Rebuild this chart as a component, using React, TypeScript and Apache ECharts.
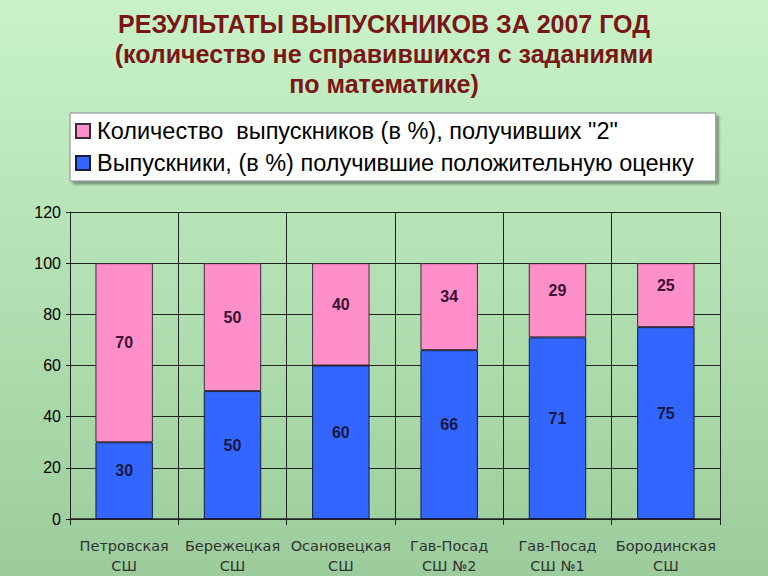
import React, { useEffect, useRef } from "react";
import * as echarts from "echarts";

const categories = [
  "Петровская\nСШ",
  "Бережецкая\nСШ",
  "Осановецкая\nСШ",
  "Гав-Посад\nСШ №2",
  "Гав-Посад\nСШ №1",
  "Бородинская\nСШ",
];
const positive = [30, 50, 60, 66, 71, 75];
const failed = [70, 50, 40, 34, 29, 25];
const seriesNames = [
  'Количество  выпускников (в %), получивших "2"',
  "Выпускники, (в %) получившие положительную оценку",
];
const titleText =
  "РЕЗУЛЬТАТЫ ВЫПУСКНИКОВ ЗА 2007 ГОД\n(количество не справившихся с заданиями\nпо математике)";

export default function App() {
  const ref = useRef<HTMLDivElement>(null);
  useEffect(() => {
    if (!ref.current) return;
    const chart = echarts.init(ref.current, null, { renderer: "svg" });
    chart.setOption({
      animation: false,
      title: {
        text: titleText,
        left: "center",
        top: 4,
        textStyle: {
          fontFamily: "Liberation Sans, Arial, sans-serif",
          fontSize: 25,
          fontWeight: "bold",
          color: "#7a1616",
          lineHeight: 30,
        },
      },
      legend: {
        data: [seriesNames[0], seriesNames[1]],
        orient: "vertical",
        left: 70,
        top: 113,
        itemWidth: 14,
        itemHeight: 14,
        itemGap: 8,
        icon: "rect",
        backgroundColor: "#ffffff",
        borderColor: "#888888",
        borderWidth: 1,
        shadowColor: "rgba(0,0,0,0.35)",
        shadowOffsetX: 3,
        shadowOffsetY: 3,
        shadowBlur: 2,
        padding: [6, 22, 6, 5],
        textStyle: {
          fontFamily: "Liberation Sans, Arial, sans-serif",
          fontSize: 23.5,
          color: "#000",
          padding: [0, 0, 0, 2],
        },
      },
      grid: { left: 70, right: 48, top: 212, bottom: 55 },
      xAxis: {
        type: "category",
        data: categories,
        axisLine: { lineStyle: { color: "#222", width: 1.5 } },
        axisTick: { show: true, length: 6, interval: 0, lineStyle: { color: "#222" } },
        splitLine: { show: true, interval: 0, lineStyle: { color: "#222", width: 1 } },
        axisLabel: {
          interval: 0,
          margin: 17,
          fontFamily: "DejaVu Sans, sans-serif",
          fontSize: 14.5,
          lineHeight: 20,
          color: "#333",
        },
      },
      yAxis: {
        type: "value",
        min: 0,
        max: 120,
        interval: 20,
        axisLine: { show: true, lineStyle: { color: "#222", width: 1 } },
        axisTick: { show: true, length: 4, lineStyle: { color: "#222" } },
        splitLine: { show: true, lineStyle: { color: "#222", width: 1.2 } },
        axisLabel: {
          margin: 9,
          fontFamily: "Liberation Sans, Arial, sans-serif",
          fontSize: 16,
          color: "#000",
        },
      },
      series: [
        {
          name: seriesNames[1],
          type: "bar",
          stack: "total",
          data: positive,
          barWidth: "53%",
          itemStyle: { color: "#3366ff", borderColor: "#1a1a3a", borderWidth: 1 },
          label: {
            show: true,
            position: "inside",
            offset: [0, -10],
            fontFamily: "Liberation Sans, Arial, sans-serif",
            fontSize: 16,
            fontWeight: "bold",
            color: "#17173f",
          },
        },
        {
          name: seriesNames[0],
          type: "bar",
          stack: "total",
          data: failed,
          barWidth: "53%",
          itemStyle: { color: "#ff8fc8", borderColor: "#3a2a3a", borderWidth: 1 },
          label: {
            show: true,
            position: "inside",
            offset: [0, -10],
            fontFamily: "Liberation Sans, Arial, sans-serif",
            fontSize: 16,
            fontWeight: "bold",
            color: "#3a1034",
          },
        },
      ],
    });
    return () => chart.dispose();
  }, []);
  return (
    <div
      style={{
        position: "fixed",
        left: 0,
        top: 0,
        width: 768,
        height: 576,
        background: "linear-gradient(to bottom, #c9f2c9 0%, #b2e0b2 50%, #9ccc9c 100%)",
      }}
    >
      <div ref={ref} style={{ width: 768, height: 576 }} />
    </div>
  );
}
